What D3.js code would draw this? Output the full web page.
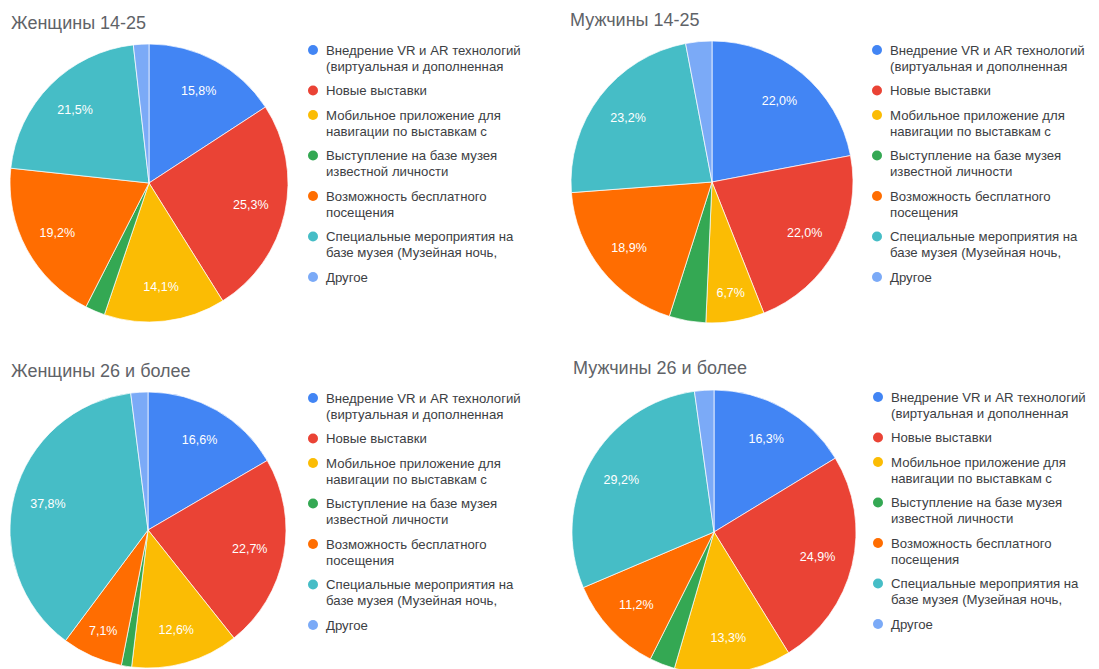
<!DOCTYPE html>
<html>
<head>
<meta charset="utf-8">
<script src="https://cdn.jsdelivr.net/npm/d3@7"></script>
<style>
  html, body { margin: 0; padding: 0; background: #fff; }
  svg { display: block; font-family: Arial, "Liberation Sans", sans-serif; }
</style>
</head>
<body>
<svg id="chart" width="1099" height="669"></svg>
<script>
// ---- data ----
const categories = [
  ["Внедрение VR и AR технологий", "(виртуальная и дополненная"],
  ["Новые выставки"],
  ["Мобильное приложение для", "навигации по выставкам с"],
  ["Выступление на базе музея", "известной личности"],
  ["Возможность бесплатного", "посещения"],
  ["Специальные мероприятия на", "базе музея (Музейная ночь,"],
  ["Другое"]
];
const titles = ["Женщины 14-25", "Мужчины 14-25", "Женщины 26 и более", "Мужчины 26 и более"];
const women1425 = [15.8, 25.3, 14.1, 2.3, 19.2, 21.5, 1.8];
const men1425   = [22.0, 22.0, 6.7, 4.2, 18.9, 23.2, 3.0];
const women26   = [16.6, 22.7, 12.6, 1.2, 7.1, 37.8, 2.0];
const men26     = [16.3, 24.9, 13.3, 2.9, 11.2, 29.2, 2.2];
const seriesList = [women1425, men1425, women26, men26];

// ---- style / layout (not data) ----
const colors = ["#4285F4", "#EA4335", "#FBBC04", "#34A853", "#FF6D01", "#46BDC6", "#7BAAF7"];
const layout = [
  {cx: 149, cy: 183, r: 139, tx: 11, ty: 29, lx: 313, ly: 50},
  {cx: 712, cy: 182, r: 141, tx: 570, ty: 26, lx: 877, ly: 50},
  {cx: 148, cy: 530, r: 138, tx: 11, ty: 377, lx: 313, ly: 398},
  {cx: 714, cy: 532, r: 142, tx: 573, ty: 374, lx: 878, ly: 397}
];

const svg = d3.select("#chart");
const pie = d3.pie().sort(null).value(d => d);
const fmt = v => d3.format(".1f")(v).replace(".", ",") + "%";

seriesList.forEach((values, i) => {
  const L = layout[i];
  const g = svg.append("g");

  g.append("text")
    .attr("x", L.tx).attr("y", L.ty)
    .attr("font-size", 18)
    .attr("fill", "#5f6368")
    .text(titles[i]);

  const arc = d3.arc().innerRadius(0).outerRadius(L.r);
  const pg = g.append("g").attr("transform", `translate(${L.cx},${L.cy})`);
  const arcs = pie(values);

  pg.selectAll("path").data(arcs).join("path")
    .attr("d", arc)
    .attr("fill", (d, j) => colors[j])
    .attr("stroke", "#fff")
    .attr("stroke-width", 0.7);

  pg.selectAll("text").data(arcs.filter(d => d.data >= 5)).join("text")
    .attr("transform", d => {
      // narrow slices push their label further out, as in the original
      const k = d.data < 10 ? 0.8 : 0.75;
      const la = d3.arc().innerRadius(L.r * k).outerRadius(L.r * k);
      return `translate(${la.centroid(d)})`;
    })
    .attr("text-anchor", "middle")
    .attr("dominant-baseline", "central")
    .attr("font-size", 12.5)
    .attr("fill", "#fff")
    .text(d => fmt(d.data));

  // legend
  const lg = g.append("g").attr("transform", `translate(${L.lx},${L.ly})`);
  let y = 0;
  categories.forEach((lines, j) => {
    lg.append("circle").attr("cx", 0).attr("cy", y).attr("r", 5).attr("fill", colors[j]);
    lines.forEach((line, k) => {
      lg.append("text")
        .attr("x", 13).attr("y", y + k * 16)
        .attr("dominant-baseline", "central")
        .attr("font-size", 13.2)
        .attr("fill", "#3c4043")
        .text(line);
    });
    y += lines.length * 16 + 8.5;
  });
});
</script>
</body>
</html>
